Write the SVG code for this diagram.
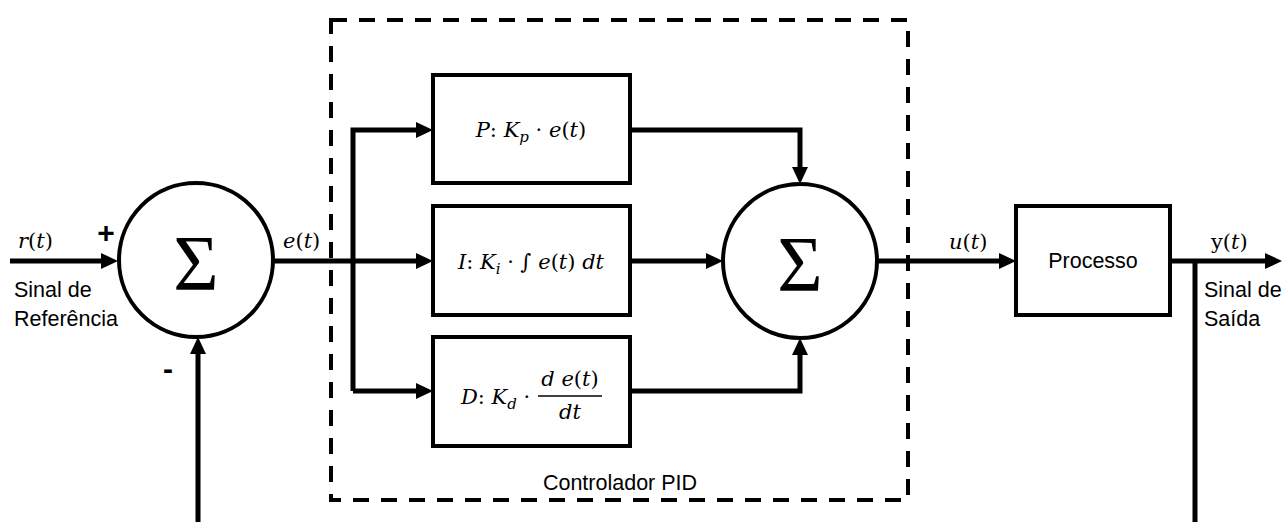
<svg xmlns="http://www.w3.org/2000/svg" width="1288" height="522" viewBox="0 0 1288 522">
<style>
.box{fill:#fff;stroke:#000;stroke-width:4}
.circ{fill:#fff;stroke:#000;stroke-width:4}
.wire{fill:none;stroke:#000;stroke-width:5;stroke-linejoin:miter}
.dash{fill:none;stroke:#000;stroke-width:4;stroke-dasharray:16 12}
.lbl{font-family:"Liberation Sans",Arial,sans-serif;font-size:21.5px;fill:#000}
.math{font-family:"DejaVu Serif","Liberation Serif",serif;font-size:21px;fill:#000}
.it{font-style:italic}
.sig{font-family:"Liberation Serif","Times New Roman",serif;font-size:78px;fill:#000}
.sign{font-family:"Liberation Sans",Arial,sans-serif;font-size:30px;font-weight:bold;fill:#000}
</style>
<defs>
<marker id="arr" markerUnits="userSpaceOnUse" markerWidth="18" markerHeight="17" refX="0" refY="8" orient="auto" overflow="visible">
<path d="M0,0 L17,8 L0,16 z" fill="#000"/>
</marker>
</defs>
<rect width="1288" height="522" fill="#fff"/>

<g id="pid-boundary">
<rect class="dash" x="331" y="20" width="577" height="480"/>
<text class="lbl" x="620" y="490" text-anchor="middle">Controlador PID</text>
</g>

<g id="connectors">
<path class="wire" d="M10,261 H101" marker-end="url(#arr)"/>
<path class="wire" d="M198,522 V354" marker-end="url(#arr)"/>
<path class="wire" d="M274,261 H416" marker-end="url(#arr)"/>
<path class="wire" d="M353,391 V130 H416" marker-end="url(#arr)"/>
<path class="wire" d="M353,391 H416" marker-end="url(#arr)"/>
<path class="wire" d="M630,130 H800 V167" marker-end="url(#arr)"/>
<path class="wire" d="M630,261 H706" marker-end="url(#arr)"/>
<path class="wire" d="M630,391 H800 V355" marker-end="url(#arr)"/>
<path class="wire" d="M877,261 H999" marker-end="url(#arr)"/>
<path class="wire" d="M1170,261 H1265" marker-end="url(#arr)"/>
<path class="wire" d="M1195,261 V522"/>
</g>

<g id="sum1">
<circle class="circ" cx="196" cy="260" r="77"/>
<text class="sig" x="196" y="289" text-anchor="middle">Σ</text>
</g>

<g id="sum2">
<circle class="circ" cx="800" cy="261" r="77"/>
<text class="sig" x="800" y="290" text-anchor="middle">Σ</text>
</g>

<g id="p-block">
<rect class="box" x="433" y="75" width="197" height="108"/>
<text class="math" x="531" y="137" text-anchor="middle"><tspan class="it">P</tspan>:  <tspan class="it">K</tspan><tspan class="it" font-size="15" dy="5">p</tspan><tspan dy="-5"> · </tspan><tspan class="it">e</tspan>(<tspan class="it">t</tspan>)</text>
</g>

<g id="i-block">
<rect class="box" x="433" y="206" width="197" height="109"/>
<text class="math" x="531" y="269" text-anchor="middle"><tspan class="it">I</tspan>:  <tspan class="it">K</tspan><tspan class="it" font-size="15" dy="5">i</tspan><tspan dy="-5"> · ∫ </tspan><tspan class="it">e</tspan>(<tspan class="it">t</tspan>) <tspan class="it">dt</tspan></text>
</g>

<g id="d-block">
<rect class="box" x="433" y="337" width="197" height="109"/>
<text class="math" x="461" y="404"><tspan class="it">D</tspan>:  <tspan class="it">K</tspan><tspan class="it" font-size="15" dy="5">d</tspan><tspan dy="-5"> ·</tspan></text>
<line x1="538" y1="396" x2="602" y2="396" stroke="#000" stroke-width="1.5"/>
<text class="math" x="570" y="386" text-anchor="middle"><tspan class="it">d e</tspan>(<tspan class="it">t</tspan>)</text>
<text class="math it" x="570" y="419" text-anchor="middle">dt</text>
</g>

<g id="process">
<rect class="box" x="1016" y="206" width="154" height="109"/>
<text class="lbl" x="1093" y="268" text-anchor="middle">Processo</text>
</g>

<g id="labels">
<text class="math" x="18" y="248"><tspan class="it">r</tspan>(<tspan class="it">t</tspan>)</text>
<text class="sign" x="106" y="243" text-anchor="middle">+</text>
<text class="sign" x="168" y="379" text-anchor="middle">-</text>
<text class="lbl" x="14" y="297">Sinal de</text>
<text class="lbl" x="14" y="326">Referência</text>
<text class="math" x="283" y="248"><tspan class="it">e</tspan>(<tspan class="it">t</tspan>)</text>
<text class="math" x="949" y="249"><tspan class="it">u</tspan>(<tspan class="it">t</tspan>)</text>
<text class="math" x="1211" y="249">y(<tspan class="it">t</tspan>)</text>
<text class="lbl" x="1204" y="297">Sinal de</text>
<text class="lbl" x="1204" y="326">Saída</text>
</g>
</svg>
